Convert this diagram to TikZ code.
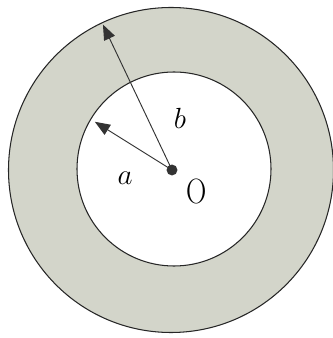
\documentclass[tikz,border=0pt]{standalone}
\usetikzlibrary{arrows.meta, calc}
\definecolor{ringgray}{RGB}{211,213,202}

\begin{document}
\begin{tikzpicture}[>={Triangle[length=13pt,width=10pt]}, x=0.03cm, y=0.03cm]
  \useasboundingbox (0,0) rectangle (332,338);
  % ring and hole
  \fill[ringgray, draw=black!85, line width=0.9pt] (171,168) circle (162.5);
  \fill[white, draw=black!85, line width=0.9pt] (174,169) circle (97);
  % centre and radii
  \coordinate (O) at (172,168);
  \coordinate (A) at ($(O)+(148:91)$);
  \coordinate (B) at ($(O)+(115.4:161)$);
  \draw[->, black!80, line width=0.8pt] (O) -- (A);
  \draw[->, black!80, line width=0.8pt] (O) -- (B);
  \node[circle, fill=black!80, inner sep=3.3pt] (dot) at (O) {};
  \node[font=\fontsize{32}{32}\selectfont] (la) at (125,160) {$a$};
  \node[font=\fontsize{32}{32}\selectfont] (lb) at (180,220) {$b$};
  \node[font=\fontsize{30}{30}\selectfont] (lo) at (197,147) {\scalebox{0.8}[1]{O}};
\end{tikzpicture}
\end{document}
